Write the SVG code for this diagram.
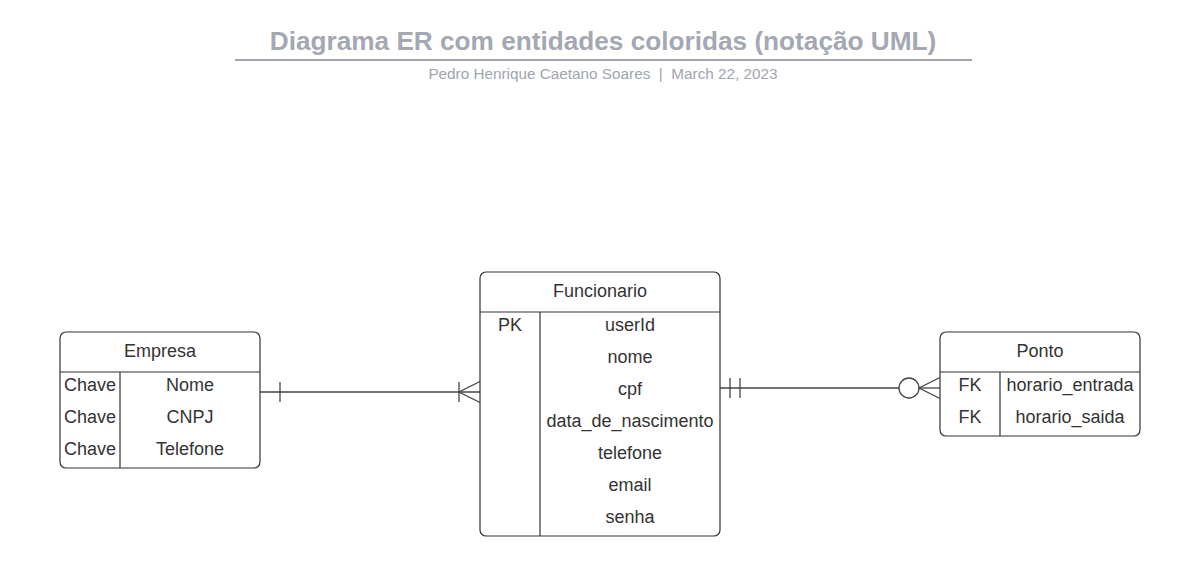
<svg xmlns="http://www.w3.org/2000/svg" width="1181" height="580" viewBox="0 0 1181 580">
<style>
.box{fill:#fff;stroke:#333;stroke-width:1.2}
.ln{stroke:#333;stroke-width:1.2;fill:none}
.t{font-family:"Liberation Sans",Arial,sans-serif;font-size:18px;fill:#333;text-anchor:middle}
.c{stroke:#444;stroke-width:1.3;fill:none}
</style>
<rect width="1181" height="580" fill="#fff"/>
<g id="title">
<text x="603" y="50" font-family="Liberation Sans,Arial,sans-serif" font-weight="bold" font-size="26.2" fill="#a3a8b2" text-anchor="middle">Diagrama ER com entidades coloridas (notação UML)</text>
<line x1="235" y1="60" x2="972" y2="60" stroke="#9fa4ad" stroke-width="2"/>
<text x="603" y="79" font-family="Liberation Sans,Arial,sans-serif" font-size="15.3" fill="#a0a5ae" text-anchor="middle" xml:space="preserve" style="white-space:pre">Pedro Henrique Caetano Soares  |  March 22, 2023</text>
</g>
<g id="connectors">
<line class="c" x1="260" y1="392" x2="480" y2="392"/>
<line class="c" x1="280" y1="382" x2="280" y2="402"/>
<line class="c" x1="459" y1="382" x2="459" y2="402"/>
<path class="c" d="M480 381.5 L459 392 L480 402.5"/>
<line class="c" x1="720" y1="388" x2="899" y2="388"/>
<line class="c" x1="730" y1="378" x2="730" y2="398"/>
<line class="c" x1="740" y1="378" x2="740" y2="398"/>
<circle class="c" cx="909" cy="388" r="10"/>
<line class="c" x1="919" y1="388" x2="940" y2="388"/>
<path class="c" d="M940 377.5 L919 388 L940 398.5"/>
</g>
<g id="empresa">
<rect class="box" x="60" y="332" width="200" height="136" rx="6"/>
<line class="ln" x1="60" y1="372" x2="260" y2="372"/>
<line class="ln" x1="120" y1="372" x2="120" y2="468"/>
<text class="t" x="160" y="357">Empresa</text>
<text class="t" x="90" y="391">Chave</text><text class="t" x="190" y="391">Nome</text>
<text class="t" x="90" y="423">Chave</text><text class="t" x="190" y="423">CNPJ</text>
<text class="t" x="90" y="455">Chave</text><text class="t" x="190" y="455">Telefone</text>
</g>
<g id="funcionario">
<rect class="box" x="480" y="272" width="240" height="264" rx="6"/>
<line class="ln" x1="480" y1="312" x2="720" y2="312"/>
<line class="ln" x1="540" y1="312" x2="540" y2="536"/>
<text class="t" x="600" y="297">Funcionario</text>
<text class="t" x="510" y="331">PK</text>
<text class="t" x="630" y="331">userId</text>
<text class="t" x="630" y="363">nome</text>
<text class="t" x="630" y="395">cpf</text>
<text class="t" x="630" y="427">data_de_nascimento</text>
<text class="t" x="630" y="459">telefone</text>
<text class="t" x="630" y="491">email</text>
<text class="t" x="630" y="523">senha</text>
</g>
<g id="ponto">
<rect class="box" x="940" y="332" width="200" height="104" rx="6"/>
<line class="ln" x1="940" y1="372" x2="1140" y2="372"/>
<line class="ln" x1="1000" y1="372" x2="1000" y2="436"/>
<text class="t" x="1040" y="357">Ponto</text>
<text class="t" x="970" y="391">FK</text><text class="t" x="1070" y="391">horario_entrada</text>
<text class="t" x="970" y="423">FK</text><text class="t" x="1070" y="423">horario_saida</text>
</g>
</svg>
